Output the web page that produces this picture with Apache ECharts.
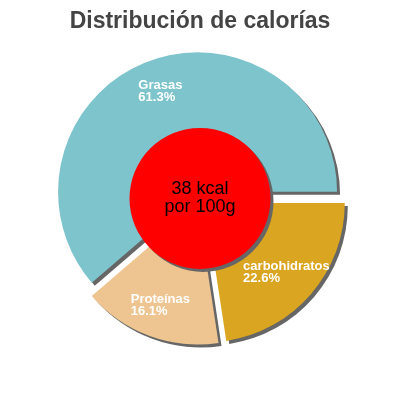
<!DOCTYPE html>
<html>
<head>
<meta charset="utf-8">
<script src="https://cdn.jsdelivr.net/npm/echarts@6/dist/echarts.min.js"></script>
<style>
  html, body { margin: 0; padding: 0; background: #fff; }
  #main { width: 400px; height: 400px; }
</style>
</head>
<body>
<div id="main"></div>
<script>
var categories = ['Grasas', 'Proteínas', 'carbohidratos'];
var percents = [61.3, 16.1, 22.6];
var colors = ['#7ec4cc', '#eec591', '#daa520'];
var centerText = ['38 kcal', 'por 100g'];

var CENTER = ['50%', '49.6%'];

var chart = echarts.init(document.getElementById('main'));

var shadow = {
    shadowColor: '#666',
    shadowBlur: 0,
    shadowOffsetX: 3,
    shadowOffsetY: 3
};

var pieData = [];
var labelData = [];
for (var i = 0; i < categories.length; i++) {
    pieData.push({
        name: categories[i],
        value: percents[i],
        selected: true,
        itemStyle: Object.assign({ color: colors[i] }, shadow)
    });
    labelData.push({ name: categories[i], value: percents[i] });
}

var option = {
    animation: false,
    title: {
        text: 'Distribución de calorías',
        left: 'center',
        top: 5,
        textStyle: {
            fontFamily: 'Liberation Sans',
            fontSize: 23,
            fontWeight: 'bold',
            color: '#444'
        }
    },
    series: [
        {
            // the slices, all pulled out a bit
            type: 'pie',
            center: CENTER,
            radius: 139.5,
            startAngle: 0,
            clockwise: false,
            selectedMode: 'multiple',
            selectedOffset: 7,
            silent: true,
            emphasis: { disabled: true },
            label: { show: false },
            labelLine: { show: false },
            data: pieData
        },
        {
            // red disc in the middle
            type: 'pie',
            center: CENTER,
            radius: 70.5,
            silent: true,
            emphasis: { disabled: true },
            label: {
                show: true,
                position: 'center',
                color: '#000',
                fontFamily: 'Liberation Sans',
                fontSize: 18,
                lineHeight: 18,
                formatter: centerText.join('\n')
            },
            labelLine: { show: false },
            data: [{ value: 1, name: 'kcal', itemStyle: Object.assign({ color: '#ff0000' }, shadow) }]
        },
        {
            // invisible ring, only carries the slice labels
            type: 'pie',
            center: CENTER,
            radius: [82.5, 139.5],
            startAngle: 0,
            clockwise: false,
            silent: true,
            emphasis: { disabled: true },
            itemStyle: { color: 'rgba(0,0,0,0)', borderWidth: 0 },
            label: {
                show: true,
                position: 'inside',
                formatter: function (p) {
                    return '{t|' + p.name + '}\n{t|' + p.value.toFixed(1) + '%}';
                },
                rich: {
                    t: {
                        align: 'left',
                        color: '#fff',
                        fontFamily: 'Liberation Sans',
                        fontSize: 13,
                        fontWeight: 'bold',
                        lineHeight: 12
                    }
                }
            },
            labelLine: { show: false },
            data: labelData
        }
    ]
};
chart.setOption(option);
</script>
</body>
</html>
